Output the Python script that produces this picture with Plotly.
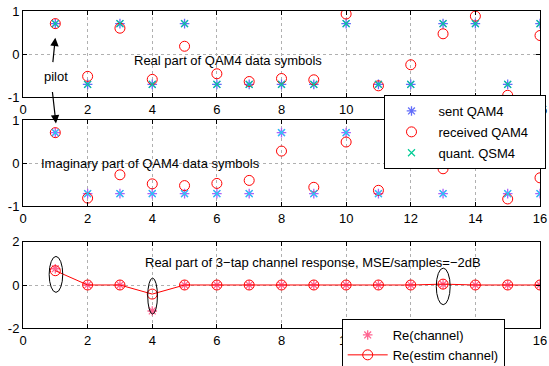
import plotly.graph_objects as go

# ---------------- data ----------------
n = list(range(1, 17))
sent_re = [0.707, -0.707, 0.707, -0.707, 0.707, -0.707, -0.707, -0.707,
           -0.707, 0.707, -0.707, -0.707, 0.707, 0.707, -0.707, 0.707]
recv_re = [0.707, -0.52, 0.60, -0.59, 0.18, -0.46, -0.64, -0.57,
           -0.60, 0.93, -0.74, -0.25, 0.47, 0.88, -0.96, 0.43]
quant_re = sent_re[:]
sent_im = [0.707, -0.707, -0.707, -0.707, -0.707, -0.707, -0.707, 0.707,
           -0.707, 0.707, -0.707, 0.707, -0.707, 0.707, -0.707, -0.707]
recv_im = [0.707, -0.81, -0.27, -0.48, -0.52, -0.47, -0.40, 0.28,
           -0.56, 0.49, -0.63, 0.55, -0.13, 0.80, -0.83, -0.34]
quant_im = sent_im[:]
chan_re = [0.75, 0, 0, -1.2, 0, 0, 0, 0, 0, 0, 0, 0, 0.03, 0, 0, 0]
estim_re = [0.66, 0, 0, -0.42, 0, 0, 0, 0, 0, 0, 0, 0, 0.04, 0, 0, 0]

x_ticks = [0, 2, 4, 6, 8, 10, 12, 14, 16]
y_ticks_sym = [-1, 0, 1]
y_ticks_ch = [-2, 0, 2]
ellipse_x = [(0.81, 1.23), (3.86, 4.16), (12.79, 13.22)]
ellipse_y = [(-0.34, 1.32), (-1.34, 0.32), (-0.91, 0.78)]

FONT = "Liberation Sans, Arial, Helvetica, sans-serif"
BLUE, RED, GREEN = "#0000ff", "#ff0000", "#00d800"
PAD = "\u00a0\u00a0\u00a0"

fig = go.Figure()

def add_syms(xa, ya, s, r, q, leg):
    fig.add_trace(go.Scatter(x=n, y=s, mode="markers", xaxis=xa, yaxis=ya,
                             name="sent QAM4", showlegend=leg, legendgroup="a",
                             marker=dict(symbol="asterisk-open", size=8,
                                         line=dict(color=BLUE, width=1.3))))
    fig.add_trace(go.Scatter(x=n, y=r, mode="markers", xaxis=xa, yaxis=ya,
                             name="received QAM4" + PAD, showlegend=leg, legendgroup="b",
                             marker=dict(symbol="circle-open", size=10,
                                         line=dict(color=RED, width=1), color=RED)))
    fig.add_trace(go.Scatter(x=n, y=q, mode="markers", xaxis=xa, yaxis=ya,
                             name="quant. QSM4", showlegend=leg, legendgroup="c",
                             marker=dict(symbol="x-thin-open", size=7,
                                         line=dict(color=GREEN, width=1.2))))

add_syms("x", "y", sent_re, recv_re, quant_re, True)
add_syms("x2", "y2", sent_im, recv_im, quant_im, False)

fig.add_trace(go.Scatter(x=n, y=chan_re, mode="markers", xaxis="x3", yaxis="y3",
                         name="Re(channel)", legend="legend2",
                         marker=dict(symbol="asterisk-open", size=8,
                                     line=dict(color=BLUE, width=1.3))))
fig.add_trace(go.Scatter(x=n, y=estim_re, mode="lines+markers", xaxis="x3", yaxis="y3",
                         name="Re(estim channel)", legend="legend2",
                         line=dict(color=RED, width=1),
                         marker=dict(symbol="circle-open", size=10,
                                     line=dict(color=RED, width=1), color=RED)))

W, H = 549, 366
xdom = [23 / W, 540 / W]
def ydom(top, bot):
    return [1 - bot / H, 1 - top / H]

def xax(anchor):
    return dict(domain=xdom, range=[0, 16], anchor=anchor,
                tickvals=x_ticks, ticktext=[str(v) for v in x_ticks],
                showline=True, mirror="ticks", linecolor="black", linewidth=1,
                ticks="inside", ticklen=4, tickcolor="black",
                showgrid=True, gridcolor="#b0b0b0", griddash="dot", gridwidth=1,
                zeroline=False, tickfont=dict(size=13, color="black"))

def yax(anchor, dom, rng, tv):
    return dict(domain=dom, range=rng, anchor=anchor,
                tickvals=tv, ticktext=[str(v) for v in tv],
                showline=True, mirror="ticks", linecolor="black", linewidth=1,
                ticks="inside", ticklen=4, tickcolor="black",
                showgrid=True, gridcolor="#b0b0b0", griddash="dot", gridwidth=1,
                zeroline=False, tickfont=dict(size=13, color="black"))

shapes = []
for (x0, x1), (y0, y1) in zip(ellipse_x, ellipse_y):
    shapes.append(dict(type="circle", xref="x3", yref="y3", x0=x0, x1=x1,
                       y0=y0, y1=y1, line=dict(color="black", width=1)))

annotations = [
    dict(text="Real part of QAM4 data symbols", x=6.35, y=-0.15, xref="x", yref="y",
         showarrow=False, font=dict(size=13, color="black")),
    dict(text="Imaginary part of QAM4 data symbols", x=3.96, y=0.0, xref="x2", yref="y2",
         showarrow=False, font=dict(size=13, color="black")),
    dict(text="Real part of 3\u2212tap channel response, MSE/samples=\u22122dB",
         x=8.98, y=1.02, xref="x3", yref="y3",
         showarrow=False, font=dict(size=13, color="black")),
    dict(text="pilot", x=1.02, y=-0.52, xref="x", yref="y",
         showarrow=False, font=dict(size=13, color="black")),
    dict(text="", x=1.0, y=0.38, xref="x", yref="y", showarrow=True,
         ax=-2.6, ay=26, arrowhead=2, arrowsize=1.4, arrowwidth=1.2, arrowcolor="black"),
    dict(text="", x=1.02, y=0.92, xref="x2", yref="y2", showarrow=True,
         ax=-3.7, ay=-33, arrowhead=2, arrowsize=1.4, arrowwidth=1.2, arrowcolor="black"),
]

fig.update_layout(
    width=W, height=H, margin=dict(l=0, r=0, t=0, b=0, autoexpand=False),
    paper_bgcolor="white", plot_bgcolor="white",
    font=dict(family=FONT, size=13, color="black"),
    xaxis=xax("y"), yaxis=yax("x", ydom(11, 97), [-1, 1], y_ticks_sym),
    xaxis2=xax("y2"), yaxis2=yax("x2", ydom(120, 206.3), [-1, 1], y_ticks_sym),
    xaxis3=xax("y3"), yaxis3=yax("x3", ydom(241.7, 328.3), [-2, 2], y_ticks_ch),
    legend=dict(x=383.5 / W, y=1 - 95 / H, xanchor="left", yanchor="top",
                bgcolor="white", bordercolor="black", borderwidth=1,
                itemwidth=44, tracegroupgap=1, traceorder="grouped",
                font=dict(size=13, color="black")),
    legend2=dict(x=341.7 / W, y=1 - 319 / H, xanchor="left", yanchor="top",
                 bgcolor="white", bordercolor="black", borderwidth=1,
                 itemwidth=40,
                 font=dict(size=13, color="black")),
    shapes=shapes, annotations=annotations, showlegend=True,
)

fig.write_html("out.html")
